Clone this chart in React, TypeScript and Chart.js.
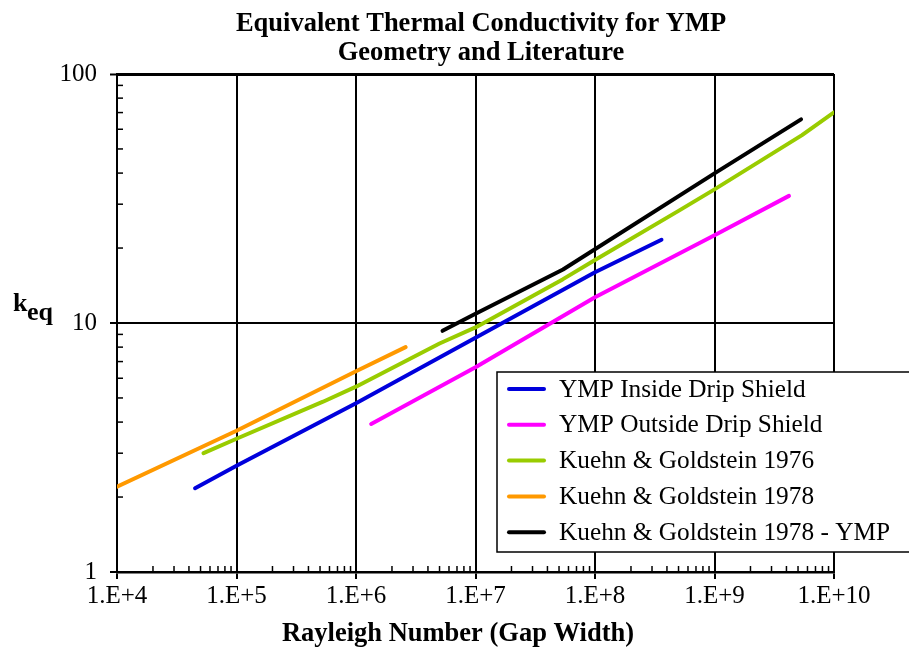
import React, { useEffect, useRef } from "react";
import { Chart, registerables } from "chart.js";

Chart.register(...registerables);

const FONT = '"Liberation Serif", "Times New Roman", Times, serif';

const titleLines = ["Equivalent Thermal Conductivity for YMP", "Geometry and Literature"];
const xAxisTitle = "Rayleigh Number (Gap Width)";
const yAxisMain = "k";
const yAxisSub = "eq";

const xTickValues = [1e4, 1e5, 1e6, 1e7, 1e8, 1e9, 1e10];
const xTickLabels = ["1.E+4", "1.E+5", "1.E+6", "1.E+7", "1.E+8", "1.E+9", "1.E+10"];
const yTickValues = [1, 10, 100];
const yTickLabels = ["1", "10", "100"];

const seriesNames = [
  "YMP Inside Drip Shield",
  "YMP Outside Drip Shield",
  "Kuehn & Goldstein 1976",
  "Kuehn & Goldstein 1978",
  "Kuehn & Goldstein 1978 - YMP",
];
const seriesColors = ["#0000DC", "#FF00FF", "#99CC00", "#FF9900", "#000000"];

const insideRa = [4.5e4, 1e5, 1e6, 1e7, 1e8, 3.6e8];
const insideK = [2.17, 2.67, 4.76, 8.72, 16.0, 21.6];

const outsideRa = [1.34e6, 1e7, 1e8, 1e9, 4.2e9];
const outsideK = [3.93, 6.64, 12.7, 22.5, 32.4];

const kg1976Ra = [5.3e4, 1e5, 5.3e5, 1e6, 5e6, 1e7, 5.4e7, 1e8, 5e8, 1e9, 5.4e9, 1e10];
const kg1976K = [3.0, 3.43, 4.83, 5.55, 8.27, 9.6, 15.0, 17.9, 28.2, 34.4, 56.8, 70.2];

const kg1978Ra = [1e4, 1e5, 1e6, 2.6e6];
const kg1978K = [2.2, 3.69, 6.4, 8.0];

const kgYmpRa = [5.3e6, 1e7, 5.4e7, 1e9, 5.3e9];
const kgYmpK = [9.3, 10.9, 16.4, 39.9, 65.7];

const seriesRa = [insideRa, outsideRa, kg1976Ra, kg1978Ra, kgYmpRa];
const seriesK = [insideK, outsideK, kg1976K, kg1978K, kgYmpK];

const decorPlugin = {
  id: "decor",
  afterDraw(chart: any) {
    const { ctx, chartArea, scales } = chart;
    const xs = scales.x;
    const ys = scales.y;
    ctx.save();
    ctx.strokeStyle = "#000";
    ctx.lineWidth = 1.5;
    // minor ticks on y axis (inward)
    for (let e = 0; e < 2; e++) {
      for (let m = 2; m <= 9; m++) {
        const py = ys.getPixelForValue(m * Math.pow(10, e));
        ctx.beginPath();
        ctx.moveTo(chartArea.left, py);
        ctx.lineTo(chartArea.left + 6, py);
        ctx.stroke();
      }
    }
    // minor ticks on x axis (inward)
    for (let e = 4; e < 10; e++) {
      for (let m = 2; m <= 9; m++) {
        const px = xs.getPixelForValue(m * Math.pow(10, e));
        ctx.beginPath();
        ctx.moveTo(px, chartArea.bottom);
        ctx.lineTo(px, chartArea.bottom - 6);
        ctx.stroke();
      }
    }
    ctx.fillStyle = "#000";
    ctx.textBaseline = "alphabetic";

    // chart title
    ctx.textAlign = "center";
    ctx.font = `bold 26.5px ${FONT}`;
    ctx.fillText(titleLines[0], 481, 31);
    ctx.fillText(titleLines[1], 481, 59.5);

    // x axis title
    ctx.font = `bold 26.5px ${FONT}`;
    ctx.fillText(xAxisTitle, 458, 641);

    // y axis title k_eq
    ctx.textAlign = "left";
    ctx.font = `bold 26px ${FONT}`;
    ctx.fillText(yAxisMain, 13, 311);
    ctx.fillText(yAxisSub, 27, 320);

    // legend
    const lx = 497;
    const ly = 372;
    ctx.fillStyle = "#fff";
    ctx.fillRect(lx, ly, 430, 180);
    ctx.strokeStyle = "#000";
    ctx.lineWidth = 1.5;
    ctx.strokeRect(lx, ly, 430, 180);
    ctx.font = `25.3px ${FONT}`;
    ctx.textBaseline = "middle";
    chart.data.datasets.forEach((ds: any, i: number) => {
      const y = 389 + i * 35.8;
      ctx.strokeStyle = ds.borderColor;
      ctx.lineWidth = 4;
      ctx.lineCap = "round";
      ctx.beginPath();
      ctx.moveTo(509, y);
      ctx.lineTo(544, y);
      ctx.stroke();
      ctx.fillStyle = "#000";
      ctx.fillText(ds.label, 559, y + 1);
    });
    ctx.restore();
  },
};

export default function App() {
  const ref = useRef<HTMLCanvasElement | null>(null);
  useEffect(() => {
    if (!ref.current) return;
    const chart = new Chart(ref.current, {
      type: "scatter",
      data: {
        datasets: seriesNames.map((name, i) => ({
          label: name,
          data: seriesRa[i].map((x, j) => ({ x, y: seriesK[i][j] })),
          showLine: true,
          borderColor: seriesColors[i],
          backgroundColor: seriesColors[i],
          borderWidth: 4,
          pointRadius: 0,
          borderCapStyle: "round",
          borderJoinStyle: "round",
          tension: 0,
        })),
      },
      options: {
        animation: false,
        responsive: false,
        devicePixelRatio: 1,
        layout: { padding: { left: 0, right: 75, top: 74, bottom: 0 } },
        plugins: {
          legend: { display: false },
          tooltip: { enabled: false },
          title: { display: false },
        },
        scales: {
          x: {
            type: "logarithmic",
            min: 1e4,
            max: 1e10,
            afterBuildTicks: (scale: any) => {
              scale.ticks = xTickValues.map((v) => ({ value: v }));
            },
            afterFit: (scale: any) => {
              scale.height = 75;
            },
            ticks: {
              autoSkip: false,
              maxRotation: 0,
              minRotation: 0,
              color: "#000",
              padding: 2,
              font: { family: FONT, size: 25 },
              callback: (_v: any, i: number) => xTickLabels[i],
            },
            grid: {
              color: "#000",
              lineWidth: 2,
              drawTicks: true,
              tickLength: 7,
              tickWidth: 2,
              tickColor: "#000",
            },
            border: { display: true, color: "#000", width: 2.5 },
            title: { display: false },
          },
          y: {
            type: "logarithmic",
            min: 1,
            max: 100,
            afterBuildTicks: (scale: any) => {
              scale.ticks = yTickValues.map((v) => ({ value: v }));
            },
            afterFit: (scale: any) => {
              scale.width = 117;
            },
            ticks: {
              autoSkip: false,
              color: "#000",
              padding: 13,
              font: { family: FONT, size: 25 },
              callback: (_v: any, i: number) => yTickLabels[i],
            },
            grid: {
              color: "#000",
              lineWidth: (c: any) => (c.tick && c.tick.value === 100 ? 3 : 2),
              drawTicks: true,
              tickLength: 7,
              tickWidth: 2,
              tickColor: "#000",
            },
            border: { display: true, color: "#000", width: 2 },
          },
        },
      },
      plugins: [decorPlugin],
    } as any);
    return () => chart.destroy();
  }, []);
  return (
    <div style={{ position: "fixed", left: 0, top: 0, width: 909, height: 647, background: "#fff" }}>
      <canvas ref={ref} width={909} height={647} style={{ display: "block", width: 909, height: 647 }} />
    </div>
  );
}
